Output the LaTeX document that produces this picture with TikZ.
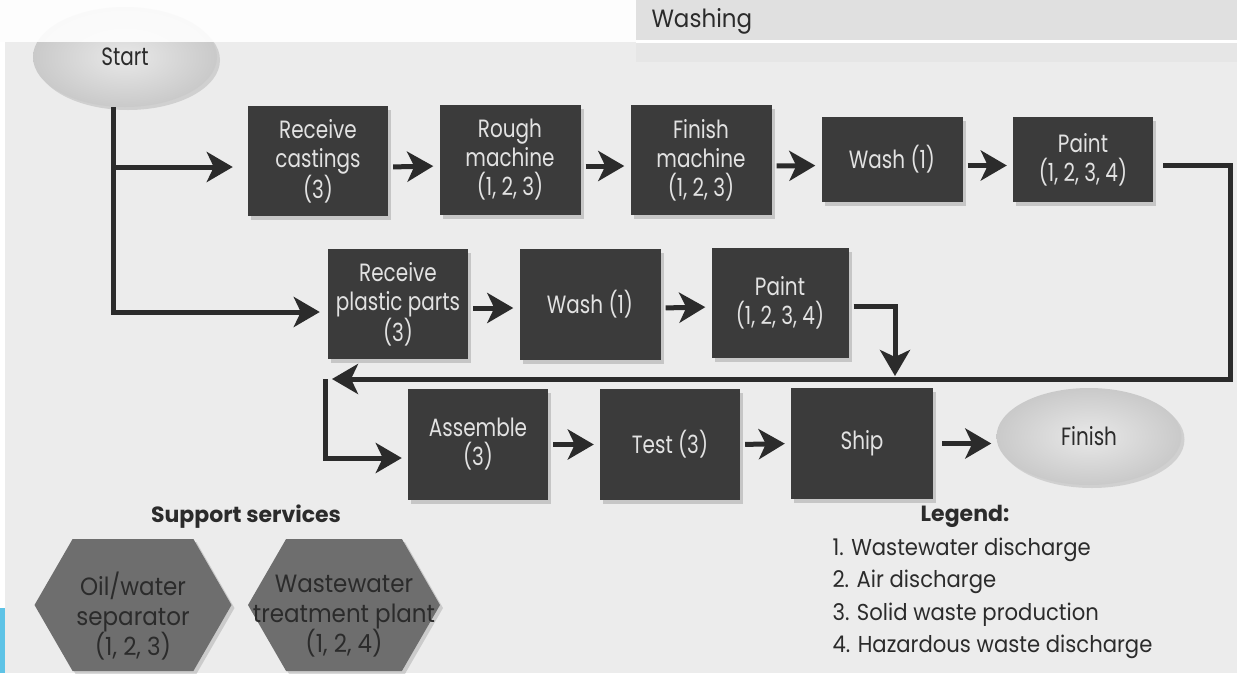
\documentclass[tikz,border=0pt]{standalone}
\usepackage{fontspec}
\setmainfont{Poppins}
\newfontfamily\boxfont[FakeStretch=0.8]{Poppins}
\newfontfamily\itemfont[FakeStretch=0.92]{Poppins}
\usetikzlibrary{arrows.meta,shapes.geometric,shapes.symbols,shadows}
\definecolor{page}{HTML}{ECECEC}
\definecolor{band}{HTML}{E0E0E0}
\definecolor{boxgray}{HTML}{3B3B3B}
\definecolor{boxtext}{HTML}{E2E2E2}
\definecolor{hexgray}{HTML}{6E6E6E}
\definecolor{ink}{HTML}{2B2B2B}
\definecolor{edgeblue}{HTML}{5EC3E6}
\begin{document}
\begin{tikzpicture}[x=1pt,y=-1pt,
  box/.style={fill=boxgray,text=boxtext,align=center,inner sep=0pt,
    minimum width=140pt,minimum height=110pt,
    font=\boxfont\fontsize{25}{29}\selectfont,
    drop shadow={shadow xshift=3pt,shadow yshift=-4pt,fill=gray,opacity=.35}},
  oval/.style={ellipse,inner sep=0pt,minimum width=184pt,minimum height=100pt,
    inner color=gray!18,outer color=gray!42,text=ink,
    font=\boxfont\fontsize{25}{29}\selectfont,
    drop shadow={shadow xshift=3pt,shadow yshift=-3pt,fill=gray,opacity=.25}},
  hexa/.style={signal,signal to=west and east,signal pointer angle=120,
    fill=hexgray,inner sep=0pt,minimum height=132pt,
    drop shadow={shadow xshift=3pt,shadow yshift=-3pt,fill=gray,opacity=.3}},
  hextext/.style={align=center,text=ink,font=\itemfont\fontsize{25}{30}\selectfont},
  head/.style={font=\bfseries\fontsize{22}{26}\selectfont,text=ink},
  item/.style={anchor=west,font=\itemfont\fontsize{23}{26}\selectfont,text=ink},
  flow/.style={draw=ink,line width=5pt,
    -{Stealth[length=26pt,width=30pt,inset=7pt]},
    shorten <=5pt,shorten >=6pt}]
  \useasboundingbox (0,0) rectangle (1237,673);
  \fill[page] (0,0) rectangle (1237,673);
  \fill[band] (636,0) rectangle (1237,40);
  \fill[white] (636,40) rectangle (1237,43);
  \fill[band!50!page] (636,43) rectangle (1237,62);
  \fill[white] (0,42) rectangle (5,673);
  \fill[edgeblue] (0,608) rectangle (5,673);
  \node[item,font=\itemfont\fontsize{25}{28}\selectfont] (washing) at (648,21) {Washing};

  \node[oval] (start) at (125,57) {Start};
  \fill[white,opacity=.9] (0,0) rectangle (636,42);

  \node[box] (11) at (318,161) {Receive\\castings\\(3)};
  \node[box,minimum width=141pt] (12) at (510,160) {Rough\\machine\\(1, 2, 3)};
  \node[box,minimum width=141pt] (13) at (701,160) {Finish\\machine\\(1, 2, 3)};
  \node[box,minimum width=141pt,minimum height=85pt] (14) at (892,159.5) {Wash (1)};
  \node[box,minimum height=85pt] (15) at (1083,159.5) {Paint\\(1, 2, 3, 4)};

  \node[box] (21) at (398,304) {Receive\\plastic parts\\(3)};
  \node[box,minimum width=141pt,minimum height=111pt] (22) at (590,304) {Wash (1)};
  \node[box,minimum width=137pt] (23) at (780,303) {Paint\\(1, 2, 3, 4)};

  \node[box,minimum height=111pt] (31) at (478,444.5) {Assemble\\(3)};
  \node[box,minimum height=111pt] (32) at (670,444.5) {Test (3)};
  \node[box,minimum width=142pt,minimum height=111pt] (33) at (862,443.5) {Ship};
  \node[oval,minimum width=185pt,minimum height=97pt] (finish) at (1089,436.5) {Finish};

  \coordinate (trunk) at (113,167);
  \coordinate (trunkend) at (113,312);
  \coordinate (ecorner) at (1230,379);
  \coordinate (wcorner) at (325,379);
  \coordinate (drop) at (895,379);

  \draw[flow,shorten <=0pt,shorten >=8pt] (start.south -| trunk) |- (trunkend -| 21.west);
  \draw[flow,shorten <=0pt,shorten >=15pt] (trunk) -- (trunk -| 11.west);
  \draw[flow] ([yshift=-6pt]11.east) -- ([yshift=-6pt]12.west);
  \draw[flow] ([yshift=-6pt]12.east) -- ([yshift=-6pt]13.west);
  \draw[flow] ([yshift=-6pt]13.east) -- ([yshift=-6pt]14.west);
  \draw[flow] ([yshift=-6pt]14.east) -- ([yshift=-6pt]15.west);
  \draw[flow,shorten <=10pt,shorten >=7pt] ([yshift=-5.5pt]15.east) -| (ecorner) -- (wcorner);

  \draw[flow] ([yshift=-4pt]21.east) -- ([yshift=-4pt]22.west);
  \draw[flow] ([yshift=-4pt]22.east) -- ([yshift=-4pt]23.west);
  \draw[flow,shorten >=3pt] ([yshift=-3pt]23.east) -| (drop);

  \draw[flow,shorten <=0pt] (wcorner) |- ([yshift=-13.5pt]31.west);
  \draw[flow] (31.east) -- (32.west);
  \draw[flow] (32.east) -- (33.west);
  \draw[flow,shorten <=9pt,shorten >=5pt] (33.east) -- (33.east -| finish.west);

  \node[head] (support) at (246,517) {Support services};
  \node[hexa,minimum width=197pt] (h1) at (133,605) {};
  \node[hexa,minimum width=192pt] (h2) at (344,605) {};
  \node[hextext] (h1t) at ([yshift=-11pt]h1) {Oil/water\\separator\\(1, 2, 3)};
  \node[hextext] (h2t) at ([yshift=-11pt]h2) {Wastewater\\treatment plant\\(1, 2, 4)};

  \node[head] (legend) at (965,516) {Legend:};
  \node[item] (l1) at (829,550) {1. Wastewater discharge};
  \node[item] (l2) at (829,582) {2. Air discharge};
  \node[item] (l3) at (829,615) {3. Solid waste production};
  \node[item] (l4) at (829,647) {4. Hazardous waste discharge};
\end{tikzpicture}
\end{document}
